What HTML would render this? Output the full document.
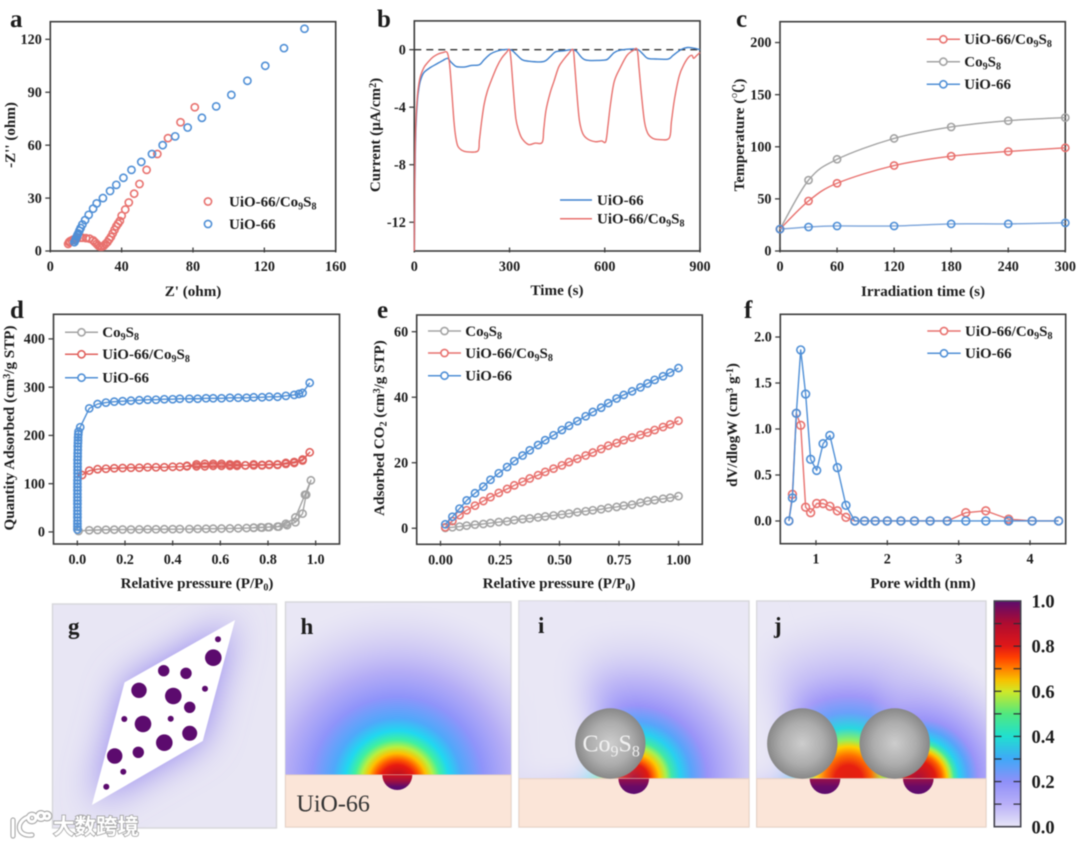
<!DOCTYPE html>
<html lang="en">
<head>
<meta charset="utf-8">
<title>UiO-66/Co9S8 characterization figure</title>
<style>
html,body{margin:0;padding:0;background:#fff;width:1080px;height:845px;overflow:hidden}
#figure{display:block;filter:blur(0.45px)}
text{font-family:"Liberation Serif","Noto Serif CJK SC",serif;font-weight:bold;fill:#1c1c1c}
</style>
</head>
<body>
<svg id="figure" xmlns="http://www.w3.org/2000/svg" width="1080" height="845" viewBox="0 0 1080 845">
<defs>
  <radialGradient id="fieldH" gradientUnits="userSpaceOnUse" cx="397.3" cy="783" r="180">
    <stop offset="0" stop-color="#a8103a"/>
    <stop offset="0.05" stop-color="#c0101e"/>
    <stop offset="0.1" stop-color="#e81a10"/>
    <stop offset="0.13" stop-color="#ff5a00"/>
    <stop offset="0.165" stop-color="#ffc000"/>
    <stop offset="0.2" stop-color="#b8f040"/>
    <stop offset="0.24" stop-color="#40f0a0"/>
    <stop offset="0.29" stop-color="#20d8f0"/>
    <stop offset="0.36" stop-color="#50a8fa"/>
    <stop offset="0.48" stop-color="#8f94fa"/>
    <stop offset="0.62" stop-color="#aea6f6" stop-opacity="0.9"/>
    <stop offset="0.8" stop-color="#c4bcf4" stop-opacity="0.5"/>
    <stop offset="1" stop-color="#d8d4f4" stop-opacity="0"/>
  </radialGradient>
  <radialGradient id="fieldI" gradientUnits="userSpaceOnUse" cx="634" cy="779" r="160">
    <stop offset="0" stop-color="#a8103a"/>
    <stop offset="0.09" stop-color="#e01a10"/>
    <stop offset="0.12" stop-color="#ff6000"/>
    <stop offset="0.16" stop-color="#ffc800"/>
    <stop offset="0.2" stop-color="#a8f050"/>
    <stop offset="0.235" stop-color="#40e8a8"/>
    <stop offset="0.29" stop-color="#28d0f0"/>
    <stop offset="0.36" stop-color="#58a4fa"/>
    <stop offset="0.46" stop-color="#9a94f8"/>
    <stop offset="0.62" stop-color="#b6aef6" stop-opacity="0.85"/>
    <stop offset="0.8" stop-color="#cbc6f4" stop-opacity="0.45"/>
    <stop offset="1" stop-color="#dcd8f4" stop-opacity="0"/>
  </radialGradient>
  <radialGradient id="fieldJR" gradientUnits="userSpaceOnUse" cx="918" cy="779" r="125">
    <stop offset="0" stop-color="#a8103a"/>
    <stop offset="0.14" stop-color="#e01a10"/>
    <stop offset="0.19" stop-color="#ff6000"/>
    <stop offset="0.23" stop-color="#ffc800"/>
    <stop offset="0.26" stop-color="#a8f050"/>
    <stop offset="0.29" stop-color="#40e8a8"/>
    <stop offset="0.33" stop-color="#28d0f0"/>
    <stop offset="0.4" stop-color="#58a4fa"/>
    <stop offset="0.48" stop-color="#9a94f8"/>
    <stop offset="0.64" stop-color="#b6aef6" stop-opacity="0.8"/>
    <stop offset="0.82" stop-color="#cbc6f4" stop-opacity="0.4"/>
    <stop offset="1" stop-color="#dcd8f4" stop-opacity="0"/>
  </radialGradient>
  <radialGradient id="fieldJ" gradientUnits="userSpaceOnUse" cx="848.5" cy="779" r="170">
    <stop offset="0" stop-color="#e02010"/>
    <stop offset="0.08" stop-color="#e82010"/>
    <stop offset="0.14" stop-color="#ff7000"/>
    <stop offset="0.19" stop-color="#ffd000"/>
    <stop offset="0.23" stop-color="#90f060"/>
    <stop offset="0.3" stop-color="#28d8e0"/>
    <stop offset="0.39" stop-color="#6aa0fa"/>
    <stop offset="0.49" stop-color="#a098f8"/>
    <stop offset="0.63" stop-color="#bcb4f6" stop-opacity="0.85"/>
    <stop offset="0.83" stop-color="#d0caf4" stop-opacity="0.45"/>
    <stop offset="1" stop-color="#dcd8f4" stop-opacity="0"/>
  </radialGradient>
  <linearGradient id="fadeRight" gradientUnits="userSpaceOnUse" x1="870" y1="0" x2="905" y2="0">
    <stop offset="0" stop-color="#000"/>
    <stop offset="1" stop-color="#fff"/>
  </linearGradient>
  <mask id="maskRight" maskUnits="userSpaceOnUse" x="756" y="600" width="231" height="180">
    <rect x="756" y="600" width="231" height="180" fill="url(#fadeRight)"/>
  </mask>
  <linearGradient id="holeH" x1="0" y1="0" x2="0" y2="1">
    <stop offset="0" stop-color="#d01420"/>
    <stop offset="0.4" stop-color="#a01040"/>
    <stop offset="0.8" stop-color="#5c0b6e"/>
    <stop offset="1" stop-color="#5c0b6e"/>
  </linearGradient>
  <linearGradient id="holeI" x1="0" y1="0" x2="0" y2="1">
    <stop offset="0" stop-color="#9a1048"/>
    <stop offset="0.5" stop-color="#6a0b66"/>
    <stop offset="1" stop-color="#5c0b6e"/>
  </linearGradient>
  <radialGradient id="sphere">
    <stop offset="0" stop-color="#cdcdcd"/>
    <stop offset="0.6" stop-color="#adadad"/>
    <stop offset="1" stop-color="#888888"/>
  </radialGradient>
  <linearGradient id="cbar" x1="0" y1="1" x2="0" y2="0">
    <stop offset="0" stop-color="#e8e6f7"/>
    <stop offset="0.1" stop-color="#b9b0f8"/>
    <stop offset="0.2" stop-color="#8f90f8"/>
    <stop offset="0.3" stop-color="#40a8f8"/>
    <stop offset="0.4" stop-color="#20e0d0"/>
    <stop offset="0.5" stop-color="#50e880"/>
    <stop offset="0.6" stop-color="#d0e828"/>
    <stop offset="0.65" stop-color="#f8c000"/>
    <stop offset="0.7" stop-color="#ff8000"/>
    <stop offset="0.75" stop-color="#ff4000"/>
    <stop offset="0.8" stop-color="#e01818"/>
    <stop offset="0.9" stop-color="#b00c30"/>
    <stop offset="1" stop-color="#5c0b6e"/>
  </linearGradient>
  <filter id="soft14" x="-40%" y="-40%" width="180%" height="180%"><feGaussianBlur stdDeviation="17"/></filter>
  <filter id="soft18" x="-40%" y="-40%" width="180%" height="180%"><feGaussianBlur stdDeviation="18"/></filter>
  <clipPath id="clipG"><rect x="52.5" y="604" width="224" height="224"/></clipPath>
  <clipPath id="clipI"><rect x="519" y="601" width="230" height="178"/></clipPath>
  <clipPath id="clipJ"><rect x="756.7" y="601" width="229.3" height="178"/></clipPath>
</defs>

<!-- bottom simulation panels -->
<g id="panel-g">
  <rect x="52.5" y="604" width="224" height="224" fill="#e8e6f4" stroke="#d6d6da" stroke-width="1.4"/>
  <g clip-path="url(#clipG)">
    <polygon points="234.3,621 125,682.7 92.7,804 202.3,740.7" fill="#8f80ee" filter="url(#soft18)"/>
  </g>
  <polygon points="234.3,621 125,682.7 92.7,804 202.3,740.7" fill="#fff" stroke="#fff" stroke-width="1"/>
  <g id="g-dots"></g>
</g>

<g id="panel-h">
  <rect x="285.5" y="602" width="225.5" height="225" fill="#e9e7f5" stroke="#d6d6da" stroke-width="1.4"/>
  <rect x="285.5" y="602" width="225.5" height="173.5" fill="url(#fieldH)"/>
  <rect x="285.5" y="775" width="225.5" height="52" fill="#fbe5d8" stroke="#e8d2c4" stroke-width="1"/>
  <path d="M382.3 775 A15 15 0 0 0 412.3 775 Z" fill="url(#holeH)"/>
  <text x="296.5" y="811.5" font-size="24" style="font-weight:normal;fill:#333">UiO-66</text>
</g>

<g id="panel-i">
  <rect x="519" y="601" width="230" height="226" fill="#e9e7f5" stroke="#d6d6da" stroke-width="1.4"/>
  <g clip-path="url(#clipI)">
    <rect x="519" y="601" width="230" height="178" fill="url(#fieldI)"/>
    <polygon points="612,775 600,715 585,690 560,590 505,590 505,795 590,795" fill="#e9e7f5" filter="url(#soft14)"/>
  </g>
  <rect x="519" y="778.7" width="230" height="48.3" fill="#fbe5d8" stroke="#e8d2c4" stroke-width="1"/>
  <path d="M618.4 778.7 A15.3 15.3 0 0 0 649 778.7 Z" fill="url(#holeI)"/>
  <circle cx="610.3" cy="743.5" r="35.2" fill="url(#sphere)"/>
  <text x="582.5" y="751.5" font-size="24" style="font-weight:normal;fill:#f0f0f0">Co<tspan font-size="16" dy="5">9</tspan><tspan dy="-5">S</tspan><tspan font-size="16" dy="5">8</tspan></text>
</g>

<g id="panel-j">
  <rect x="756.7" y="601" width="229.3" height="226" fill="#e9e7f5" stroke="#d6d6da" stroke-width="1.4"/>
  <g clip-path="url(#clipJ)">
    <rect x="756.7" y="601" width="229.3" height="178" fill="url(#fieldJ)"/>
    <rect x="756.7" y="601" width="229.3" height="178" fill="url(#fieldJR)" mask="url(#maskRight)"/>
    <polygon points="802,775 790,715 770,680 740,590 700,590 700,795 790,795" fill="#e9e7f5" filter="url(#soft14)"/>
  </g>
  <rect x="756.7" y="778.7" width="229.3" height="48.3" fill="#fbe5d8" stroke="#e8d2c4" stroke-width="1"/>
  <path d="M809.7 778.7 A15.3 15.3 0 0 0 840.3 778.7 Z" fill="url(#holeI)"/>
  <path d="M903 778.7 A15.3 15.3 0 0 0 933.6 778.7 Z" fill="url(#holeI)"/>
  <circle cx="802.3" cy="743.5" r="35.2" fill="url(#sphere)"/>
  <circle cx="894.7" cy="743.5" r="35.2" fill="url(#sphere)"/>
</g>

<g id="colorbar">
  <rect x="994.3" y="601" width="26.4" height="225.7" fill="url(#cbar)" stroke="#454550" stroke-width="1.6"/>
</g>

<text x="68" y="634" font-size="23">g</text>
<text x="300.5" y="634" font-size="23">h</text>
<text x="538" y="633" font-size="23">i</text>
<text x="774" y="633" font-size="23">j</text>

<text x="10" y="27" font-size="25">a</text>
<text x="377" y="27" font-size="25">b</text>
<text x="736" y="27" font-size="25">c</text>
<text x="10" y="318" font-size="25">d</text>
<text x="377" y="318" font-size="25">e</text>
<text x="744" y="318" font-size="25">f</text>

<g id="charts"></g>

<g id="watermark">
  <g fill="none" stroke="#a8a8a8" stroke-width="5.2" stroke-linecap="round">
    <path d="M13 820 L13 836 M28 817 C15 822 17 837 32 835"/>
    <circle cx="32" cy="818" r="3.8"/><circle cx="41" cy="816" r="3.4"/><circle cx="47" cy="816" r="2.8"/>
  </g>
  <g fill="none" stroke="#ffffff" stroke-width="3" stroke-linecap="round">
    <path d="M13 820 L13 836 M28 817 C15 822 17 837 32 835"/>
    <circle cx="32" cy="818" r="3.8"/><circle cx="41" cy="816" r="3.4"/><circle cx="47" cy="816" r="2.8"/>
  </g>
  <text x="53" y="834" font-size="21.5" style="font-family:'Liberation Sans','Noto Sans CJK SC',sans-serif;font-weight:bold;fill:#ffffff;stroke:#a0a0a0;stroke-width:1.6;paint-order:stroke">大数跨境</text>
</g>
</svg>

<script>
/* ---------- chart data ---------- */
/* panel a: Nyquist */
const aRedX  = [10,10.5,11,12,13,14,15,17,18,20,22,24,25,26,27,28,29,30,31,32,33,34,35,36,37,38,39,40,42,44,47,50,54,60,66,73,81];
const aRedY  = [4,5,5.5,6,6.5,7,7.3,7.5,7.5,7.3,7,6,5,4,3,2.5,2.5,3,4,5,6.5,8,10,12,14,15.5,17,20,23.5,27.5,32.5,38,46,55,64,73,81.5];
const aBlueX = [13.5,14,14.3,14.8,15.2,15.7,16.3,17,18,19.5,21.5,24,26,29.5,33.5,37,41,45.5,51,57,63,70,77,85,93,101.5,110.5,120.5,131,142.5];
const aBlueY = [5,6,7,8,9,10,11.5,13,15,17.5,20.5,24,27,30,34,37.5,41.5,46,50.5,55,60,65,70,75.5,82,88.5,96.5,105,115,126];
const aXTicks = [0,40,80,120,160];
const aYTicks = [0,30,60,90,120];

/* panel b: photocurrent */
const bBlueT = [0,2,5,10,15,20,30,50,70,90,105,115,130,140,160,180,205,220,240,260,280,305,320,340,360,400,415,430,445,470,495,510,530,550,600,612,630,650,690,705,720,735,760,800,815,840,860,880,900];
const bBlueI = [-14,-9,-5.5,-3.5,-2.6,-2.1,-1.6,-1.25,-1,-0.75,-0.6,-0.85,-1.15,-1.2,-1.2,-1.1,-1.05,-0.7,-0.3,-0.1,0,-0.02,-0.3,-0.7,-0.8,-0.85,-0.75,-0.45,-0.15,-0.08,0,-0.1,-0.6,-0.75,-0.72,-0.6,-0.2,-0.03,0.05,0,-0.3,-0.6,-0.65,-0.65,-0.4,0,0.15,0.1,0];
const bRedT  = [0,2,5,10,15,20,30,40,50,60,75,90,103,110,115,120,125,130,137,150,165,200,205,212,220,230,245,260,275,290,300,305,312,320,330,340,360,380,403,408,415,428,440,455,470,485,500,505,512,520,530,545,570,590,603,610,618,630,650,670,690,702,708,715,725,735,750,770,803,810,820,835,850,865,875,880,890,900];
const bRedI  = [-14,-8,-5,-3.2,-2.3,-1.8,-1.25,-0.95,-0.7,-0.5,-0.3,-0.2,-0.18,-0.8,-2,-3.5,-5,-6,-6.7,-7,-7.1,-7.05,-6.3,-5,-3.8,-2.9,-2,-1.2,-0.6,-0.2,0,-0.8,-2.8,-4.8,-5.7,-6.2,-6.6,-6.5,-6.45,-5.5,-4.2,-3,-2.2,-1.2,-0.7,-0.3,0,-1,-3,-4.9,-5.8,-6.2,-6.4,-6.35,-6.4,-5.3,-3.8,-2.2,-1.2,-0.4,-0.05,0,-1.3,-3,-5,-5.8,-6.15,-6.25,-6.15,-5,-3.4,-1.8,-1,-0.5,-0.4,-0.6,-0.4,-0.2];
const bXTicks = [0,300,600,900];
const bYTicks = [0,-4,-8,-12];

/* panel c: temperature */
const cTime = [0,30,60,120,180,240,300];
const cRed  = [21,48,65,82,91,95.5,99];
const cGrey = [21,68,88,108,119,125,128];
const cBlue = [21,23,24,24,26,26,27];
const cXTicks = [0,60,120,180,240,300];
const cYTicks = [0,50,100,150,200];

/* panel d: N2 isotherms */
const dBlueX = [0.0005,0.0005,0.0005,0.0005,0.0005,0.0005,0.0005,0.0005,0.0005,0.0005,0.0005,0.0005,0.0005,0.0005,0.0005,0.0005,0.001,0.001,0.001,0.001,0.001,0.001,0.0015,0.0015,0.002,0.002,0.0025,0.003,0.003,0.004,0.005,0.012,0.05,0.085,0.12,0.155,0.19,0.225,0.26,0.295,0.33,0.365,0.4,0.43,0.47,0.505,0.54,0.57,0.605,0.64,0.675,0.71,0.74,0.775,0.805,0.84,0.875,0.91,0.93,0.945,0.975];
const dBlueY = [5,11,17,23,30,37,44,51,58,65,72,79,86,93,100,107,114,121,128,135,142,149,156,163,170,177,184,190,196,202,208,217,256,265,268,270,271,272,273,274,274,275,275,276,276,276,277,277,277,278,278,278,279,279,280,280,282,284,286,288,309];
const dRedX  = [0.02,0.05,0.085,0.12,0.155,0.19,0.225,0.26,0.295,0.33,0.365,0.4,0.43,0.46,0.5,0.535,0.57,0.605,0.64,0.67,0.705,0.74,0.775,0.805,0.84,0.875,0.91,0.945,0.975,0.945,0.91,0.875,0.84,0.805,0.775,0.74,0.705,0.67,0.64,0.605,0.57,0.535,0.5,0.46];
const dRedY  = [118,127,130,131,132,132.5,133,133,134,134,134,135,135,136,136,136,137,137,137,137,138,138,138,139,139,141,143,148,165,150,145,143,140,140,139,140,138,140,140,141,141,141,140,137];
const dGreyX = [0.005,0.05,0.085,0.12,0.155,0.19,0.225,0.26,0.295,0.33,0.365,0.4,0.43,0.47,0.505,0.54,0.57,0.605,0.64,0.675,0.71,0.74,0.775,0.805,0.845,0.88,0.915,0.945,0.96,0.98,0.955,0.915,0.875,0.84,0.8,0.77,0.74];
const dGreyY = [2,3.5,4,4.5,4.7,5,5,5.2,5.5,5.5,5.7,5.8,6,6,6.3,6.5,6.8,7,7.2,7.5,8,8.5,9,10,11,14,20,38,77,107,77,30,17,11,10,9.5,9];
const dXTicks = [0,0.2,0.4,0.6,0.8,1];
const dYTicks = [0,100,200,300,400];

/* panel e: CO2 isotherms */
const ePressure = [0.02,0.05,0.08,0.11,0.145,0.18,0.21,0.245,0.28,0.31,0.345,0.375,0.41,0.44,0.475,0.51,0.54,0.575,0.61,0.64,0.675,0.705,0.74,0.77,0.805,0.84,0.87,0.9,0.935,0.965,1];
const eGrey = [0.1,0.3,0.5,0.8,1.1,1.3,1.6,1.9,2.1,2.5,2.8,3,3.3,3.6,3.9,4.2,4.5,4.9,5.2,5.5,5.8,6.2,6.5,6.9,7.2,7.8,8.3,8.6,9,9.3,9.8];
const eRed  = [0.3,2.2,4,5.5,6.9,8.3,9.5,10.8,12,13.1,14.2,15.2,16.2,17.2,18.2,19.2,20.2,21.2,22.2,23.1,24.2,25.2,26,26.9,27.7,28.5,29.2,30,30.9,31.7,32.8];
const eBlue = [1.2,3.5,6,8.5,10.7,12.7,14.8,16.8,18.7,20.5,22.2,23.8,25.4,26.9,28.4,30,31.3,32.7,34.2,35.5,36.8,38.2,39.6,40.7,41.8,43,44.2,45.3,46.4,47.5,48.9];
const eXTicks = [0,0.25,0.5,0.75,1];
const eYTicks = [0,20,40,60];

/* panel f: pore size distribution */
const fPore = [0.62,0.67,0.725,0.786,0.855,0.925,1.01,1.1,1.195,1.3,1.42,1.545,1.68,1.83,2,2.19,2.38,2.6,2.84,3.1,3.38,3.7,4.03,4.4];
const fRed  = [0,0.29,1.17,1.04,0.15,0.09,0.19,0.19,0.16,0.11,0.04,0,0,0,0,0,0,0,0,0.09,0.11,0.02,0,0];
const fBlue = [0,0.25,1.17,1.86,1.38,0.67,0.55,0.84,0.93,0.58,0.17,0,0,0,0,0,0,0,0,0,0,0,0,0];
const fXTicks = [1,2,3,4];
const fYTicks = [0,0.5,1,1.5,2];

/* colorbar + panel g */
const cbarTicks = [0,0.1,0.2,0.3,0.4,0.5,0.6,0.7,0.8,0.9,1];
const cbarLabels = [0,0.2,0.4,0.6,0.8,1];

/* ---------- helpers ---------- */
const NS = 'http://www.w3.org/2000/svg';
const RED = '#e8716e', BLUE = '#4f8fd6', GREY = '#a3a3a3', INK = '#3c3c3c';
const COMPOSITE = 'UiO-66/Co<tspan font-size="10" dy="3">9</tspan><tspan dy="-3">S</tspan><tspan font-size="10" dy="3">8</tspan>';
const COBALT = 'Co<tspan font-size="10" dy="3">9</tspan><tspan dy="-3">S</tspan><tspan font-size="10" dy="3">8</tspan>';
const chartsRoot = document.getElementById('charts');

function mk(tag, attrs, parent) {
  const el = document.createElementNS(NS, tag);
  for (const k in attrs) el.setAttribute(k, attrs[k]);
  parent.appendChild(el);
  return el;
}
function linear(d0, d1, r0, r1) {
  return function (v) { return r0 + (v - d0) * (r1 - r0) / (d1 - d0); };
}
function drawAxes(opt) {
  const g = mk('g', {}, chartsRoot);
  
  
  const frame = mk('rect', {x: opt.l, y: opt.t, width: opt.r - opt.l, height: opt.b - opt.t, fill: 'none', stroke: INK, 'stroke-width': 1.6}, g);
  
  
  const sx = linear(opt.xd[0], opt.xd[1], opt.l, opt.r);
  const sy = linear(opt.yd[0], opt.yd[1], opt.b, opt.t);
  opt.xTicks.forEach(function (v) {
    const tick = mk('line', {x1: sx(v), x2: sx(v), y1: opt.b - 3.5, y2: opt.b + 1.5, stroke: INK, 'stroke-width': 1.3}, g);
    
    
    const lab = mk('text', {x: sx(v), y: opt.b + 20, 'font-size': 14.2, 'text-anchor': 'middle'}, g);
    lab.textContent = v.toFixed(opt.xFixed);
    
    
  });
  opt.yTicks.forEach(function (v) {
    const tick = mk('line', {x1: opt.l - 5, x2: opt.l, y1: sy(v), y2: sy(v), stroke: INK, 'stroke-width': 1.3}, g);
    
    
    const lab = mk('text', {x: opt.l - 8.5, y: sy(v) + 4.7, 'font-size': 14.2, 'text-anchor': 'end'}, g);
    lab.textContent = v.toFixed(opt.yFixed);
    
    
  });
  const xt = mk('text', {x: opt.xTitleX, y: opt.xTitleY, 'font-size': 15.1, 'text-anchor': 'middle'}, g);
  xt.innerHTML = opt.xTitle;
  
  
  const yt = mk('text', {transform: 'translate(' + opt.yTitleX + ' ' + opt.yTitleY + ') rotate(-90)', 'font-size': 15.1, 'text-anchor': 'middle'}, g);
  yt.innerHTML = opt.yTitle;
  
  
  return {g: g, sx: sx, sy: sy};
}
function drawLine(ax, xs, ys, color, name, width) {
  const pts = xs.map(function (x, i) { return ax.sx(x).toFixed(2) + ',' + ax.sy(ys[i]).toFixed(2); }).join(' ');
  const line = mk('polyline', {points: pts, fill: 'none', stroke: color, 'stroke-width': width || 1.4, 'stroke-linejoin': 'round'}, ax.g);
  
  
}
function drawSmooth(ax, xs, ys, color, name) {
  const px = xs.map(ax.sx), py = ys.map(ax.sy);
  let d = 'M' + px[0] + ' ' + py[0];
  for (let i = 0; i < px.length - 1; i++) {
    const p0 = Math.max(i - 1, 0), p3 = Math.min(i + 2, px.length - 1);
    const c1x = px[i] + (px[i + 1] - px[p0]) / 6, c1y = py[i] + (py[i + 1] - py[p0]) / 6;
    const c2x = px[i + 1] - (px[p3] - px[i]) / 6, c2y = py[i + 1] - (py[p3] - py[i]) / 6;
    d += ' C' + c1x + ' ' + c1y + ' ' + c2x + ' ' + c2y + ' ' + px[i + 1] + ' ' + py[i + 1];
  }
  const line = mk('path', {d: d, fill: 'none', stroke: color, 'stroke-width': 1.4}, ax.g);
  
  
}
function drawPoints(ax, xs, ys, color, name, r) {
  xs.forEach(function (x, i) {
    const c = mk('circle', {cx: ax.sx(x), cy: ax.sy(ys[i]), r: r || 3.6, fill: 'none', stroke: color, 'stroke-width': 1.6}, ax.g);
    
    
  });
}
function legend(ax, x1, x2, y, tx, color, label, name, marker, line) {
  const g = mk('g', {}, ax.g);
  
  
  if (line) {
    const l = mk('line', {x1: x1, x2: x2, y1: y, y2: y, stroke: color, 'stroke-width': 1.5}, g);
    
    
  }
  if (marker) {
    const c = mk('circle', {cx: (x1 + x2) / 2, cy: y, r: 3.6, fill: '#fff', stroke: color, 'stroke-width': 1.6}, g);
    
    
  }
  const t = mk('text', {x: tx, y: y + 4.8, 'font-size': 15}, g);
  t.innerHTML = label;
  
  
}

/* ---------- panel a ---------- */
const axA = drawAxes({name: 'chart-a', l: 50.3, r: 335.7, t: 21.7, b: 251, xd: [0, 160], yd: [0, 130], xTicks: aXTicks, yTicks: aYTicks, xFixed: 0, yFixed: 0,
  xTitle: "Z' (ohm)", xTitleX: 193, xTitleY: 296, yTitle: "-Z'' (ohm)", yTitleX: 15, yTitleY: 135});
drawPoints(axA, aRedX, aRedY, RED, 'nyquist-composite');
drawPoints(axA, aBlueX, aBlueY, BLUE, 'nyquist-uio66');
legend(axA, 208, 208, 201.5, 229, RED, COMPOSITE, 'legend-a-composite', true, false);
legend(axA, 208, 208, 224, 229, BLUE, 'UiO-66', 'legend-a-uio66', true, false);

/* ---------- panel b ---------- */
const axB = drawAxes({name: 'chart-b', l: 414.3, r: 700, t: 20.9, b: 251, xd: [0, 900], yd: [-14, 2], xTicks: bXTicks, yTicks: bYTicks, xFixed: 0, yFixed: 0,
  xTitle: 'Time (s)', xTitleX: 557, xTitleY: 295, yTitle: 'Current (μA/cm<tspan font-size="10" dy="-4">2</tspan><tspan dy="4">)</tspan>', yTitleX: 380, yTitleY: 135});
const zeroLine = mk('line', {x1: axB.sx(0), x2: axB.sx(900), y1: axB.sy(0), y2: axB.sy(0), stroke: '#333', 'stroke-width': 1.4, 'stroke-dasharray': '7 5'}, axB.g);


drawSmooth(axB, bBlueT, bBlueI, '#3f82cf', 'current-uio66');
drawSmooth(axB, bRedT, bRedI, RED, 'current-composite');
legend(axB, 560, 592, 200, 597, '#3f82cf', 'UiO-66', 'legend-b-uio66', false, true);
legend(axB, 560, 592, 218.7, 597, RED, COMPOSITE, 'legend-b-composite', false, true);

/* ---------- panel c ---------- */
const axC = drawAxes({name: 'chart-c', l: 780, r: 1065.3, t: 21.7, b: 251, xd: [0, 300], yd: [0, 220], xTicks: cXTicks, yTicks: cYTicks, xFixed: 0, yFixed: 0,
  xTitle: 'Irradiation time (s)', xTitleX: 923, xTitleY: 296, yTitle: 'Temperature (℃)', yTitleX: 744, yTitleY: 135});
drawSmooth(axC, cTime, cGrey, GREY, 'temperature-co9s8');
drawSmooth(axC, cTime, cRed, RED, 'temperature-composite');
drawSmooth(axC, cTime, cBlue, '#7ba4da', 'temperature-uio66');
drawPoints(axC, cTime, cGrey, GREY, 'temperature-co9s8');
drawPoints(axC, cTime, cRed, RED, 'temperature-composite');
drawPoints(axC, cTime, cBlue, BLUE, 'temperature-uio66');
legend(axC, 926.7, 960, 39.3, 964.3, RED, COMPOSITE, 'legend-c-composite', true, true);
legend(axC, 926.7, 960, 61.7, 964.3, GREY, COBALT, 'legend-c-co9s8', true, true);
legend(axC, 926.7, 960, 84.3, 964.3, BLUE, 'UiO-66', 'legend-c-uio66', true, true);

/* ---------- panel d ---------- */
const axD = drawAxes({name: 'chart-d', l: 53.5, r: 339.5, t: 314.3, b: 544, xd: [-0.1, 1.1], yd: [-25, 451], xTicks: dXTicks, yTicks: dYTicks, xFixed: 1, yFixed: 0,
  xTitle: 'Relative pressure (P/P<tspan font-size="10" dy="2.5">0</tspan><tspan dy="-2.5">)</tspan>', xTitleX: 197, xTitleY: 588, yTitle: 'Quantity Adsorbed (cm<tspan font-size="10" dy="-4">3</tspan><tspan dy="4">/g STP)</tspan>', yTitleX: 14, yTitleY: 428});
drawLine(axD, dGreyX, dGreyY, GREY, 'n2-co9s8');
drawPoints(axD, dGreyX, dGreyY, GREY, 'n2-co9s8');
drawLine(axD, dRedX, dRedY, '#e0605c', 'n2-composite');
drawPoints(axD, dRedX, dRedY, '#e0605c', 'n2-composite');
drawLine(axD, dBlueX, dBlueY, BLUE, 'n2-uio66');
drawPoints(axD, dBlueX, dBlueY, BLUE, 'n2-uio66');
legend(axD, 65, 98, 332.3, 102.3, GREY, COBALT, 'legend-d-co9s8', true, true);
legend(axD, 65, 98, 354.3, 102.3, '#e0605c', COMPOSITE, 'legend-d-composite', true, true);
legend(axD, 65, 98, 377.7, 102.3, BLUE, 'UiO-66', 'legend-d-uio66', true, true);

/* ---------- panel e ---------- */
const axE = drawAxes({name: 'chart-e', l: 416.7, r: 702.3, t: 315, b: 544.3, xd: [-0.1, 1.1], yd: [-4.9, 65.1], xTicks: eXTicks, yTicks: eYTicks, xFixed: 2, yFixed: 0,
  xTitle: 'Relative pressure (P/P<tspan font-size="10" dy="2.5">0</tspan><tspan dy="-2.5">)</tspan>', xTitleX: 559, xTitleY: 588, yTitle: 'Adsorbed CO<tspan font-size="10" dy="2.5">2</tspan><tspan dy="-2.5"> (cm</tspan><tspan font-size="10" dy="-4">3</tspan><tspan dy="4">/g STP)</tspan>', yTitleX: 384, yTitleY: 428});
drawLine(axE, ePressure, eGrey, GREY, 'co2-co9s8');
drawPoints(axE, ePressure, eGrey, GREY, 'co2-co9s8');
drawLine(axE, ePressure, eRed, RED, 'co2-composite');
drawPoints(axE, ePressure, eRed, RED, 'co2-composite');
drawLine(axE, ePressure, eBlue, BLUE, 'co2-uio66');
drawPoints(axE, ePressure, eBlue, BLUE, 'co2-uio66');
legend(axE, 428, 461, 331, 465.3, GREY, COBALT, 'legend-e-co9s8', true, true);
legend(axE, 428, 461, 353, 465.3, RED, COMPOSITE, 'legend-e-composite', true, true);
legend(axE, 428, 461, 375.7, 465.3, BLUE, 'UiO-66', 'legend-e-uio66', true, true);

/* ---------- panel f ---------- */
const axF = drawAxes({name: 'chart-f', l: 780.3, r: 1065.7, t: 314.3, b: 543.7, xd: [0.5, 4.5], yd: [-0.247, 2.247], xTicks: fXTicks, yTicks: fYTicks, xFixed: 0, yFixed: 1,
  xTitle: 'Pore width (nm)', xTitleX: 923, xTitleY: 588, yTitle: 'dV/dlogW (cm<tspan font-size="10" dy="-4">3</tspan><tspan dy="4"> g</tspan><tspan font-size="10" dy="-4">-1</tspan><tspan dy="4">)</tspan>', yTitleX: 737, yTitleY: 425});
drawLine(axF, fPore, fRed, RED, 'pore-composite');
drawPoints(axF, fPore, fRed, RED, 'pore-composite', 3.9);
drawLine(axF, fPore, fBlue, BLUE, 'pore-uio66');
drawPoints(axF, fPore, fBlue, BLUE, 'pore-uio66', 3.9);
legend(axF, 927.3, 960.7, 331, 965, RED, COMPOSITE, 'legend-f-composite', true, true);
legend(axF, 927.3, 960.7, 353.3, 965, BLUE, 'UiO-66', 'legend-f-uio66', true, true);

/* ---------- panel g nanoparticles ---------- */
const dotX = [218,213.3,163.7,186,139,173.3,205,189.7,124.3,170.7,143,189.7,164.3,114.7,138.3,123.3,106.3];
const dotY = [639.3,657.7,670.7,673.3,690.3,696,688.7,707.3,719,718.7,724,733.3,742.7,756,752.3,771.7,786.7];
const dotR = [3,8.3,5.7,5.7,7.7,8.3,3,5.7,3,3,8.3,7.5,8.3,7.7,5.7,3,3];
const dotsRoot = document.getElementById('g-dots');
dotX.forEach(function (x, i) {
  const d = mk('circle', {cx: x, cy: dotY[i], r: dotR[i], fill: '#5c0b6e'}, dotsRoot);
  
  
});

/* ---------- colorbar ticks and labels ---------- */
const cbarRoot = document.getElementById('colorbar');
const cbarY = linear(0, 1, 826.7, 601);
cbarTicks.slice(1, -1).forEach(function (v) {
  const tl = mk('line', {x1: 994.3, x2: 1001.5, y1: cbarY(v), y2: cbarY(v), stroke: '#2c2c34', 'stroke-width': 1.2}, cbarRoot);
  
  
  const tr = mk('line', {x1: 1013.5, x2: 1020.7, y1: cbarY(v), y2: cbarY(v), stroke: '#2c2c34', 'stroke-width': 1.2}, cbarRoot);
  
  
});
cbarLabels.forEach(function (v) {
  const lab = mk('text', {x: 1031.5, y: cbarY(v) + 6.6, 'font-size': 18.5}, cbarRoot);
  lab.textContent = v.toFixed(1);
  
  
});
</script>
</body>
</html>
